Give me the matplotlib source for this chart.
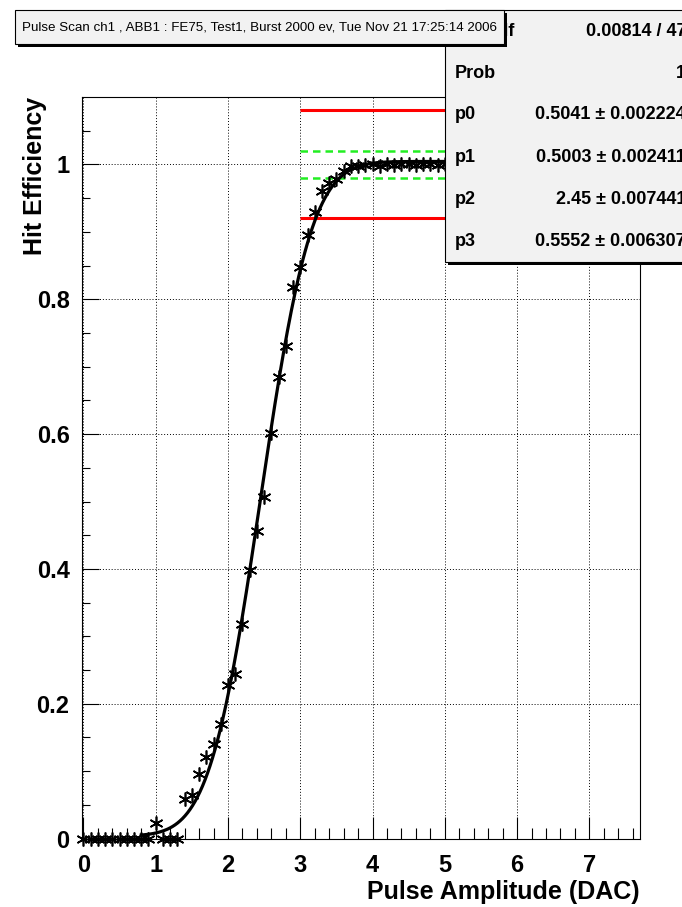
import numpy as np
import matplotlib
matplotlib.use("Agg")
import matplotlib.pyplot as plt
from matplotlib.patches import Rectangle
from math import erf, sqrt

plt.rcParams['font.family'] = ['Liberation Sans', 'DejaVu Sans']

# scan points
amp = [0.0, 0.1, 0.2, 0.3, 0.4, 0.5, 0.6, 0.7, 0.8, 0.9,
       1.0, 1.1, 1.2, 1.3, 1.4, 1.5, 1.6, 1.7, 1.8, 1.9,
       2.0, 2.1, 2.2, 2.3, 2.4, 2.5, 2.6, 2.7, 2.8, 2.9,
       3.0, 3.1, 3.2, 3.3, 3.4, 3.5, 3.6, 3.7, 3.8, 3.9,
       4.0, 4.1, 4.2, 4.3, 4.4, 4.5, 4.6, 4.7, 4.8, 4.9, 5.0]
eff = [0.0, 0.0, 0.0, 0.0, 0.0, 0.0, 0.0, 0.0, 0.0, 0.0,
       0.023, 0.0, 0.0, 0.0, 0.058, 0.065, 0.096, 0.121, 0.140, 0.170,
       0.228, 0.244, 0.319, 0.399, 0.456, 0.506, 0.601, 0.685, 0.731, 0.818,
       0.848, 0.896, 0.929, 0.960, 0.972, 0.979, 0.990, 0.998, 0.997, 0.999,
       1.0, 0.998, 1.0, 0.999, 1.0, 1.0, 0.999, 1.0, 1.0, 0.999, 1.0]

# fit result
par_names = ['p0', 'p1', 'p2', 'p3']
par_vals = [0.5041, 0.5003, 2.45, 0.5552]
par_errs = ['0.002224', '0.002411', '0.007441', '0.006307']
par_txt = ['0.5041', '0.5003', '2.45', '0.5552']
chi2_txt = '0.00814 / 47'
prob_txt = '1'
fit_lo, fit_hi = 0.8, 7.7

# tolerance bands
red_lines = [0.92, 1.08]
green_lines = [0.98, 1.02]
band_start = 3.0

W, H = 682, 907
fig = plt.figure(figsize=(W / 100, H / 100), dpi=100)


def fx(x):
    return x / W


def fy(y):
    return 1 - y / H


ax = fig.add_axes([fx(82), fy(838.6), fx(640 - 82), (838.6 - 97) / H])
ax.set_xlim(-0.02, 7.7)
ax.set_ylim(0, 1.1)

ax.grid(True, which='major', color='black', linestyle=(0, (1, 2)), linewidth=0.7)
ax.set_axisbelow(True)

p0, p1, p2, p3 = par_vals
xs = np.linspace(fit_lo, fit_hi, 400)
ys = [p0 + p1 * erf((x - p2) / (sqrt(2) * p3)) for x in xs]
ax.plot(xs, ys, color='black', linewidth=2.3, zorder=3)

ax.plot(amp, eff, linestyle='none', marker=(6, 2, 0), markersize=10,
        markeredgecolor='black', markeredgewidth=1.2, color='black',
        clip_on=False, zorder=4)

ax.hlines(red_lines, band_start, 7.7, colors='#ff0000', linewidth=2.2, zorder=2)
ax.hlines(green_lines, band_start, 7.7, colors='#22ee22', linewidth=1.8,
          linestyles=(0, (3, 2)), zorder=2)

ax.set_xticks(range(0, 8))
ax.set_xticks(np.arange(0, 7.7, 0.2), minor=True)
ax.set_yticks([0, 0.2, 0.4, 0.6, 0.8, 1.0])
ax.set_yticklabels(['0', '0.2', '0.4', '0.6', '0.8', '1'])
ax.set_yticks(np.arange(0, 1.1, 0.05), minor=True)
ax.tick_params(axis='x', which='major', direction='in', length=16, width=0.8,
               pad=11, labelsize=17)
ax.tick_params(axis='x', which='minor', direction='in', length=8, width=0.8)
ax.tick_params(axis='y', which='major', direction='in', length=12, width=0.8,
               pad=9, labelsize=17)
ax.tick_params(axis='y', which='minor', direction='in', length=6, width=0.8)
for lab in ax.get_xticklabels() + ax.get_yticklabels():
    lab.set_fontweight('bold')
for sp in ax.spines.values():
    sp.set_linewidth(0.8)

fig.text(fx(640), fy(892), 'Pulse Amplitude (DAC)', ha='right', va='center',
         fontsize=18, fontweight='bold')
fig.text(fx(35), fy(97), 'Hit Efficiency', ha='center', va='top', rotation=90,
         fontsize=18, fontweight='bold')

# statistics box
sx0, sy0, sx1, sy1 = 445, 10, 700, 262
fig.add_artist(Rectangle((fx(sx0 + 3), fy(sy1 + 3)), fx(sx1 - sx0), (sy1 - sy0) / H,
                         transform=fig.transFigure, facecolor='black',
                         edgecolor='none', zorder=2))
fig.add_artist(Rectangle((fx(sx0), fy(sy1)), fx(sx1 - sx0), (sy1 - sy0) / H,
                         transform=fig.transFigure, facecolor='#f2f2f2',
                         edgecolor='black', linewidth=0.8, zorder=2.1))
rows = [('\u03c7\u00b2 / ndf', chi2_txt), ('Prob', prob_txt)]
for n, v, e in zip(par_names, par_txt, par_errs):
    rows.append((n, v + ' \u00b1 ' + e))
for i, (lab, val) in enumerate(rows):
    yy = 31 + 42 * i
    fig.text(fx(455), fy(yy), lab, ha='left', va='center', fontsize=13,
             fontweight='bold', zorder=3)
    fig.text(fx(686), fy(yy), val, ha='right', va='center', fontsize=13,
             fontweight='bold', zorder=3)

# title box
tx0, ty0, tx1, ty1 = 15, 10, 504, 44
fig.add_artist(Rectangle((fx(tx0 + 3), fy(ty1 + 3)), fx(tx1 - tx0), (ty1 - ty0) / H,
                         transform=fig.transFigure, facecolor='black',
                         edgecolor='none', zorder=5))
fig.add_artist(Rectangle((fx(tx0), fy(ty1)), fx(tx1 - tx0), (ty1 - ty0) / H,
                         transform=fig.transFigure, facecolor='#f2f2f2',
                         edgecolor='black', linewidth=0.8, zorder=5.1))
fig.text(fx((tx0 + tx1) / 2), fy((ty0 + ty1) / 2),
         'Pulse Scan ch1 , ABB1 : FE75, Test1, Burst 2000 ev, Tue Nov 21 17:25:14 2006',
         ha='center', va='center', fontsize=9.6, zorder=6)

fig.savefig('out.png', dpi=100)
